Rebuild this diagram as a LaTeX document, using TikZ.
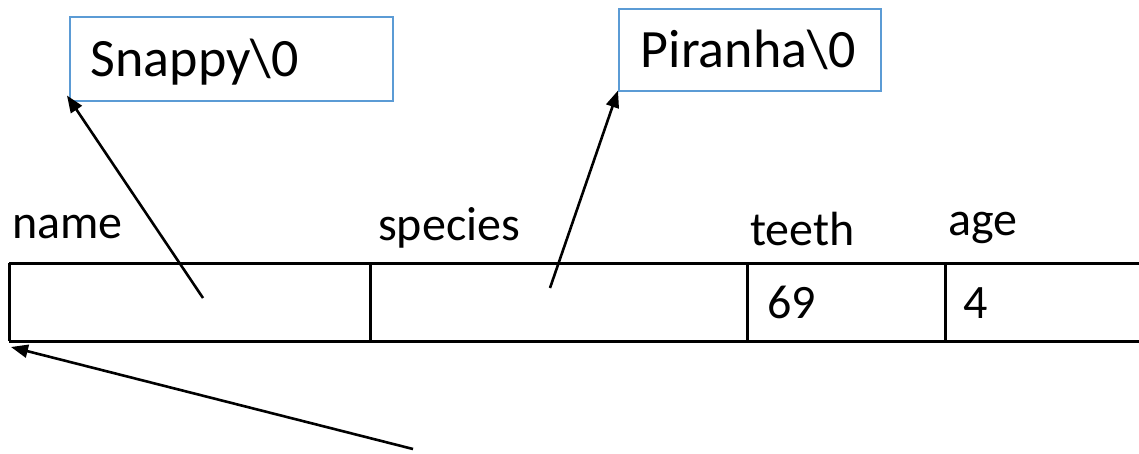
\documentclass[tikz,border=0pt]{standalone}
\usepackage{fontspec}
\setmainfont{Carlito}
\usetikzlibrary{positioning,arrows.meta}
\definecolor{boxblue}{RGB}{91,155,213}

\begin{document}
\begin{tikzpicture}[x=1pt, y=-1pt, font=\fontsize{48}{52}\selectfont,
  >={Triangle[length=17pt,width=13pt]},
  strbox/.style={draw=boxblue, line width=1.5pt, anchor=north west, inner ysep=0pt,
    align=left, text height=46pt, text depth=11pt, font=\fontsize{54}{58}\selectfont},
  field/.style={anchor=base west, inner sep=0pt},
  ptr/.style={->, line width=2.6pt},
  rowline/.style={line width=3pt}]
  \useasboundingbox (0,0) rectangle (1139,453);
  % strings
  \node (snappy) [strbox, text width=281pt, inner xsep=21pt, minimum height=84pt] at (69,16) {Snappy\textbackslash0};
  \node (piranha) [strbox, text width=218pt, inner xsep=22pt, minimum height=82pt] at (618,8) {Piranha\textbackslash0};
  % struct
  \draw[rowline] (9,263) -- (1139,263);
  \draw[rowline] (9,341) -- (1139,341);
  \draw[rowline] (9,263) -- (9,341);
  \draw[rowline] (370,263) -- (370,341);
  \draw[rowline] (747,263) -- (747,341);
  \draw[rowline] (945,263) -- (945,341);
  \node (name) [field] at (12,238) {name};
  \node (species) [field] at (378,240) {species};
  \node (teeth) [field] at (750,245) {teeth};
  \node (age) [field] at (948,235) {age};
  \node (teethval) [field] at (767,318) {69};
  \node (ageval) [field] at (963,318) {4};
  % pointers
  \coordinate (nameptr) at (203,298);
  \coordinate (speciesptr) at (550,288);
  \coordinate (structptr) at (413,449);
  \coordinate (structtop) at (11,347);
  \draw[ptr] (nameptr) -- ([xshift=-2pt,yshift=6pt]snappy.south west);
  \draw[ptr] (speciesptr) -- ([yshift=1pt]piranha.south west);
  \draw[ptr] (structptr) -- (structtop);
\end{tikzpicture}
\end{document}
